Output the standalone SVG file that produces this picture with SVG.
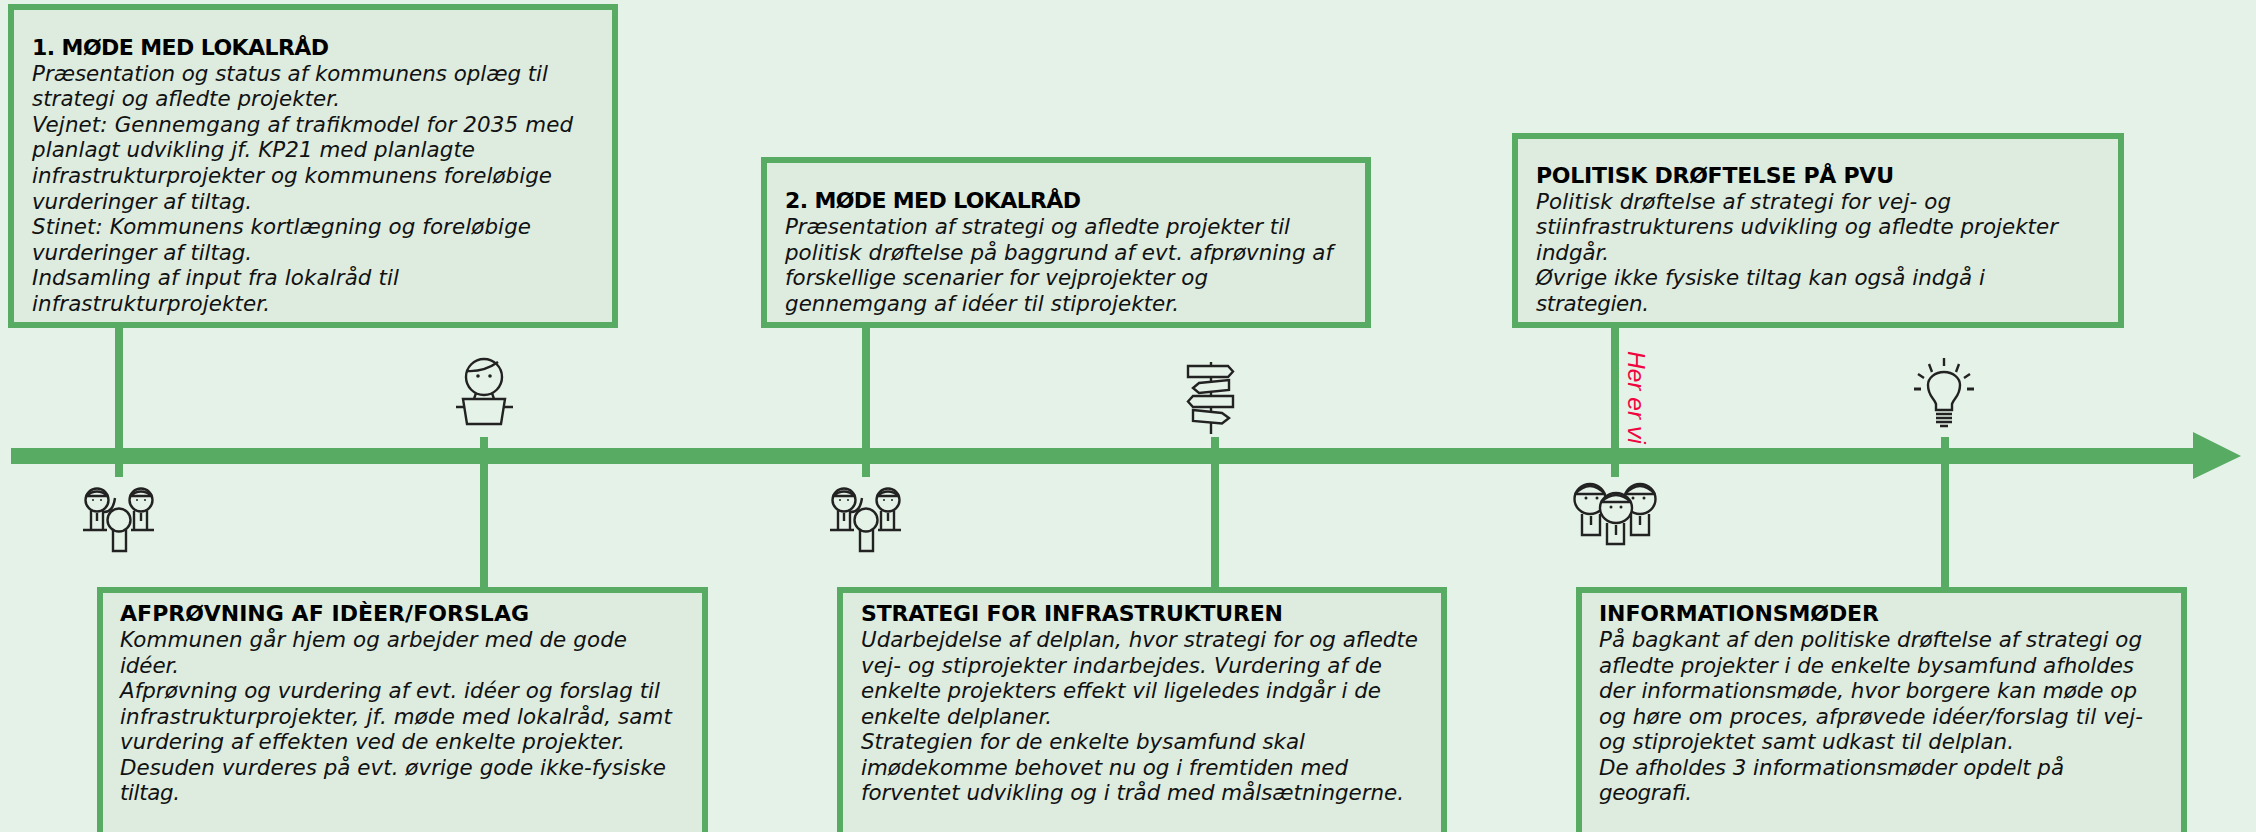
<svg xmlns="http://www.w3.org/2000/svg" width="2256" height="832" viewBox="0 0 2256 832">
<style>
.box{fill:#ddecdf;stroke:#57ab63;stroke-width:6}
.conn{stroke:#57ab63;stroke-width:8;fill:none}
.h{font:bold 22px "DejaVu Sans",Verdana,sans-serif;fill:#000}
.t{font:italic 21.4px "DejaVu Sans",Verdana,sans-serif;fill:#111}
.i{fill:none;stroke:#222;stroke-width:2.4}
.d{fill:#222;stroke:none}
</style>
<defs>
<g id="meeting" class="i">
<circle cx="-22" cy="-5" r="11.500"/><path d="M-33-9Q-22-18-11-9M-33-9H-11"/>
<path d="M-28 6V25M-16 6V25M-22 8V16"/>
<circle cx="22" cy="-5" r="11.500"/><path d="M11-9Q22-18 33-9M11-9H33"/>
<path d="M15 6V25M28 6V25M22 8V16"/>
<path d="M-36 25H-12M12 25H35M-16 7Q-6 8-4-7"/>
<circle fill="#e4f2e7" cx="0" cy="15" r="11.500"/><path d="M-6 25V46H7V25"/>
<circle class="d" cx="-26" cy="-5" r="1"/><circle class="d" cx="-18" cy="-5" r="1"/>
<circle class="d" cx="18" cy="-5" r="1"/><circle class="d" cx="26" cy="-5" r="1"/>
</g>
</defs>
<rect width="2256" height="832" fill="#e4f2e7"/>
<g id="connectors">
<path class="conn" d="M119 327V477M484 437V587M866 327V477M1215 437V587M1615 327V477M1945 437V587"/>
<path fill="#57ab63" d="M11 448H2193V432L2241 456L2193 479V464H11Z"/>
</g>
<g id="n1"><rect class="box" x="11" y="7" width="604" height="318"/>
<text class="h" x="32" y="55" textLength="297">1. MØDE MED LOKALRÅD</text>
<text class="t" x="32" y="80.500" textLength="516">Præsentation og status af kommunens oplæg til</text>
<text class="t" x="32" y="106" textLength="308">strategi og afledte projekter.</text>
<text class="t" x="32" y="131.500" textLength="541">Vejnet: Gennemgang af trafikmodel for 2035 med</text>
<text class="t" x="32" y="157" textLength="443">planlagt udvikling jf. KP21 med planlagte</text>
<text class="t" x="32" y="183" textLength="520">infrastrukturprojekter og kommunens foreløbige</text>
<text class="t" x="32" y="208.500" textLength="220">vurderinger af tiltag.</text>
<text class="t" x="32" y="234" textLength="499">Stinet: Kommunens kortlægning og foreløbige</text>
<text class="t" x="32" y="259.500" textLength="220">vurderinger af tiltag.</text>
<text class="t" x="32" y="285" textLength="367">Indsamling af input fra lokalråd til</text>
<text class="t" x="32" y="310.500" textLength="238">infrastrukturprojekter.</text>
</g>
<g id="n2"><rect class="box" x="764" y="160" width="604" height="165"/>
<text class="h" x="785" y="208" textLength="296">2. MØDE MED LOKALRÅD</text>
<text class="t" x="785" y="234" textLength="505">Præsentation af strategi og afledte projekter til</text>
<text class="t" x="785" y="259.500" textLength="548">politisk drøftelse på baggrund af evt. afprøvning af</text>
<text class="t" x="785" y="285" textLength="423">forskellige scenarier for vejprojekter og</text>
<text class="t" x="785" y="310.500" textLength="394">gennemgang af idéer til stiprojekter.</text>
</g>
<g id="n3"><rect class="box" x="1515" y="136" width="606" height="189"/>
<text class="h" x="1536" y="183" textLength="358">POLITISK DRØFTELSE PÅ PVU</text>
<text class="t" x="1536" y="208.500" textLength="415">Politisk drøftelse af strategi for vej- og</text>
<text class="t" x="1536" y="234" textLength="522">stiinfrastrukturens udvikling og afledte projekter</text>
<text class="t" x="1536" y="259.500" textLength="73">indgår.</text>
<text class="t" x="1536" y="285" textLength="449">Øvrige ikke fysiske tiltag kan også indgå i</text>
<text class="t" x="1536" y="310.500" textLength="113">strategien.</text>
</g>
<g id="n4"><rect class="box" x="100" y="590" width="605" height="250"/>
<text class="h" x="120" y="621" textLength="409">AFPRØVNING AF IDÈER/FORSLAG</text>
<text class="t" x="120" y="647" textLength="507">Kommunen går hjem og arbejder med de gode</text>
<text class="t" x="120" y="672.500" textLength="59">idéer.</text>
<text class="t" x="120" y="698" textLength="540">Afprøvning og vurdering af evt. idéer og forslag til</text>
<text class="t" x="120" y="723.500" textLength="552">infrastrukturprojekter, jf. møde med lokalråd, samt</text>
<text class="t" x="120" y="749" textLength="505">vurdering af effekten ved de enkelte projekter.</text>
<text class="t" x="120" y="774.500" textLength="546">Desuden vurderes på evt. øvrige gode ikke-fysiske</text>
<text class="t" x="120" y="800" textLength="60">tiltag.</text>
</g>
<g id="n5"><rect class="box" x="840" y="590" width="604" height="250"/>
<text class="h" x="861" y="621" textLength="422">STRATEGI FOR INFRASTRUKTUREN</text>
<text class="t" x="861" y="647" textLength="557">Udarbejdelse af delplan, hvor strategi for og afledte</text>
<text class="t" x="861" y="672.500" textLength="521">vej- og stiprojekter indarbejdes. Vurdering af de</text>
<text class="t" x="861" y="698" textLength="520">enkelte projekters effekt vil ligeledes indgår i de</text>
<text class="t" x="861" y="723.500" textLength="191">enkelte delplaner.</text>
<text class="t" x="861" y="749" textLength="444">Strategien for de enkelte bysamfund skal</text>
<text class="t" x="861" y="774.500" textLength="487">imødekomme behovet nu og i fremtiden med</text>
<text class="t" x="861" y="800" textLength="543">forventet udvikling og i tråd med målsætningerne.</text>
</g>
<g id="n6"><rect class="box" x="1579" y="590" width="605" height="250"/>
<text class="h" x="1599" y="621" textLength="280">INFORMATIONSMØDER</text>
<text class="t" x="1599" y="647" textLength="543">På bagkant af den politiske drøftelse af strategi og</text>
<text class="t" x="1599" y="672.500" textLength="535">afledte projekter i de enkelte bysamfund afholdes</text>
<text class="t" x="1599" y="698" textLength="538">der informationsmøde, hvor borgere kan møde op</text>
<text class="t" x="1599" y="723.500" textLength="544">og høre om proces, afprøvede idéer/forslag til vej-</text>
<text class="t" x="1599" y="749" textLength="415">og stiprojektet samt udkast til delplan.</text>
<text class="t" x="1599" y="774.500" textLength="465">De afholdes 3 informationsmøder opdelt på</text>
<text class="t" x="1599" y="800" textLength="93">geografi.</text>
</g>
<g id="icon-meeting-1"><use href="#meeting" x="119" y="505"/></g>
<g id="icon-meeting-2"><use href="#meeting" x="866" y="505"/></g>
<g id="icon-speaker" class="i">
<circle cx="484" cy="377" r="18"/><path d="M467 371Q484 372 498 362M465 377h2M501 377h2"/>
<path d="M476 393L474 399M492 393L494 399M456 407H464M504 407H513"/>
<path d="M463 399H505L501 424H467Z"/>
<circle class="d" cx="478" cy="376" r="1.800"/><circle class="d" cx="490" cy="376" r="1.800"/>
</g>
<g id="icon-signpost" class="i">
<path d="M1211 362V434"/>
<path fill="#e4f2e7" d="M1188 366H1228L1233 371.500L1228 377H1188Z"/>
<path fill="#e4f2e7" d="M1229 380V390L1199 393L1193 388L1199 383Z"/>
<path fill="#e4f2e7" d="M1193 396H1233V407H1193L1188 401.500Z"/>
<path fill="#e4f2e7" d="M1193 410L1222 413L1229 418L1222 423.500L1193 421Z"/>
</g>
<g id="icon-bulb" class="i">
<path d="M1944 358V366M1929 364L1932 372M1959 364L1956 372M1918 374L1924 378M1970 374L1964 378"/>
<path d="M1914 389H1921M1967 389H1974" stroke-width="3"/>
<path d="M1936 410V404C1934 398 1928 396 1928 385C1928 378 1935 372 1944 372C1953 372 1960 378 1960 385C1960 396 1954 398 1952 404V410H1936Z"/>
<path d="M1936 414H1952M1936 418H1952M1936 422H1952M1940 426H1948"/>
</g>
<g id="icon-group" class="i">
<ellipse cx="1590" cy="499" rx="15.500" ry="15"/><path d="M1575 494Q1590 478 1605 494M1575 494H1605"/>
<path d="M1582 514V535H1600V514M1591 516V525"/>
<ellipse cx="1640" cy="499" rx="15.500" ry="15"/><path d="M1625 494Q1640 478 1655 494M1625 494H1655"/>
<path d="M1631 514V535H1649V514M1640 516V525"/>
<ellipse fill="#e4f2e7" cx="1616" cy="508" rx="16" ry="15"/><path d="M1601 502Q1616 488 1631 502M1601 502H1631"/>
<path d="M1607 523V544H1624V523M1616 525V535"/>
<circle class="d" cx="1586" cy="498" r="1.500"/><circle class="d" cx="1597" cy="498" r="1.500"/>
<circle class="d" cx="1633" cy="498" r="1.500"/><circle class="d" cx="1644" cy="498" r="1.500"/>
<circle class="d" cx="1611" cy="507" r="1.500"/><circle class="d" cx="1621" cy="507" r="1.500"/>
</g>
<text id="here" transform="translate(1628 351) rotate(90)" style="font:italic 24.5px 'Liberation Sans',Arial,sans-serif" fill="#f0063f">Her er vi</text>
</svg>
